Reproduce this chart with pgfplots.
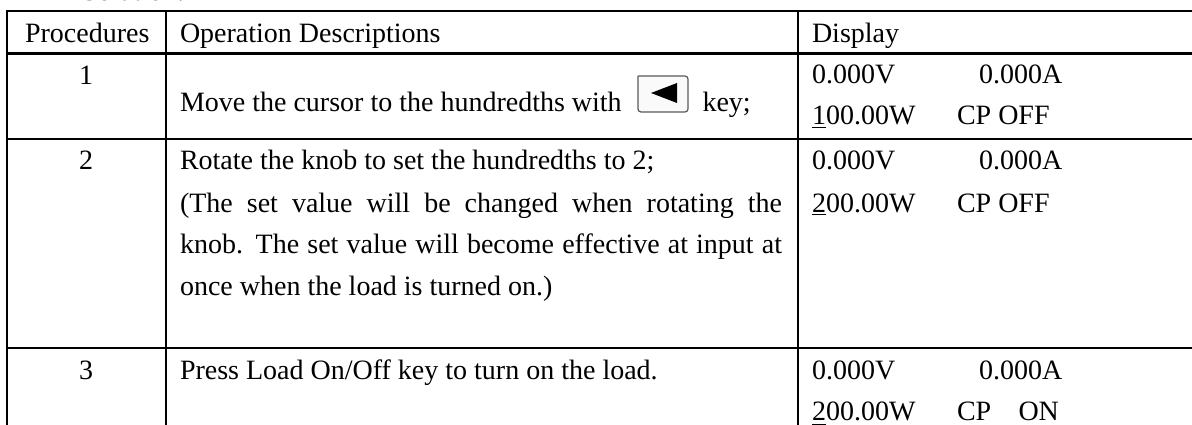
\documentclass[border=0pt]{standalone}
\usepackage{pgfplots}
\pgfplotsset{compat=1.18}
\usepackage{fontspec}
\setmainfont{Liberation Serif}
\newcommand{\T}[3]{\node[anchor=base west,inner sep=0pt,outer sep=0pt] at (axis cs:#1,#2) {\fontsize{28}{28}\selectfont #3};}
\newcommand{\J}[3]{\node[anchor=base west,inner sep=0pt,outer sep=0pt] at (axis cs:#1,#2) {\fontsize{28}{28}\selectfont\makebox[602pt][s]{#3}};}
\newcommand{\C}[3]{\node[anchor=base,inner sep=0pt,outer sep=0pt] at (axis cs:#1,#2) {\fontsize{28}{28}\selectfont #3};}
\begin{document}
\begin{tikzpicture}[x=1pt,y=1pt]
\useasboundingbox (0,0) rectangle (1192pt,425pt);
\begin{axis}[
  at={(0,0)}, anchor=south west,
  scale only axis, width=1192pt, height=425pt,
  xmin=0, xmax=1192, ymin=0, ymax=425, y dir=reverse,
  hide axis, clip=true]
% table rules
\addplot[black,line width=2.3pt] coordinates {(6,11) (1192,11)};
\addplot[black,line width=2.3pt] coordinates {(6,53.5) (1192,53.5)};
\addplot[black,line width=2.3pt] coordinates {(6,139) (1192,139)};
\addplot[black,line width=2.3pt] coordinates {(6,348) (1192,348)};
\addplot[black,line width=2.3pt] coordinates {(6.8,10) (6.8,425)};
\addplot[black,line width=2.3pt] coordinates {(165.8,10) (165.8,425)};
\addplot[black,line width=2.3pt] coordinates {(797.8,10) (797.8,425)};
% key icon
\addplot[draw=black!65,fill=black!2,line width=1.2pt,rounded corners=3pt] coordinates {(638,76) (688,76) (688,112) (638,112) (638,76)};
\addplot[black,fill=black,draw=none] coordinates {(651,93) (677,83) (677,103) (651,93)};
% underlines
\addplot[black,line width=1pt] coordinates {(812,128) (826,128)};
\addplot[black,line width=1pt] coordinates {(812,214.3) (826,214.3)};
\addplot[black,line width=1pt] coordinates {(812,424) (826,424)};
% text
\T{82}{0.5}{Solution:}
\T{25}{43}{Procedures}
\T{180}{43}{Operation Descriptions}
\T{812}{43}{Display}
\C{86}{85}{1}
\T{180}{112}{Move the cursor to the hundredths with}
\T{702.5}{112}{key;}
\T{812}{83.5}{0.000V}
\T{979}{83.5}{0.000A}
\T{812}{125}{100.00W}
\T{957}{125}{CP OFF}
\C{86}{170}{2}
\T{180}{170}{Rotate the knob to set the hundredths to 2;}
\J{180}{212}{(The set value will be changed when rotating the}
\J{180}{253.5}{knob. The set value will become effective at input at}
\T{180}{295}{once when the load is turned on.)}
\T{812}{170}{0.000V}
\T{979}{170}{0.000A}
\T{812}{212}{200.00W}
\T{957}{212}{CP OFF}
\C{86}{379}{3}
\T{180}{379}{Press Load On/Off key to turn on the load.}
\T{812}{379}{0.000V}
\T{979}{379}{0.000A}
\T{812}{420.5}{200.00W}
\T{957}{420.5}{CP}
\T{1018.5}{420.5}{ON}
\end{axis}
\end{tikzpicture}
\end{document}
